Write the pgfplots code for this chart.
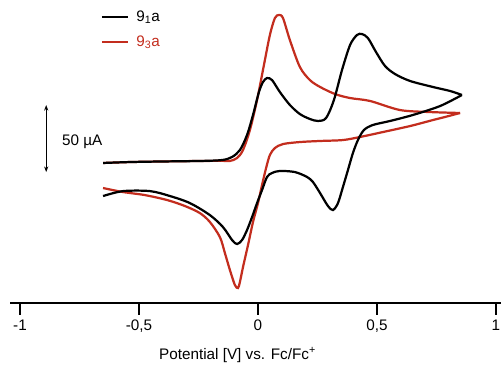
\documentclass[border=0pt]{standalone}
\usepackage{pgfplots}
\pgfplotsset{compat=1.18}
\usetikzlibrary{arrows.meta}
\usepackage{fontspec}
\setmainfont{Liberation Sans}
\definecolor{cvred}{RGB}{195,45,30}
\newcommand{\cvfont}{\fontsize{11}{13}\selectfont}
\begin{document}
\begin{tikzpicture}
\useasboundingbox (-7.56pt,-44.6pt) rectangle (353.2pt,218.2pt);
\begin{axis}[
 scale only axis, width=353pt, height=216pt,
 xmin=-1.04, xmax=1.02, ymin=-84.75, ymax=140.25,
 axis x line=bottom, axis y line=none,
 axis line style={-, line width=1.3pt},
 xtick={-1,-0.5,0,0.5,1},
 xticklabels={{-1},{-0,5},{0},{0,5},{1}},
 tick align=outside, major tick length=8.6pt,
 tick style={line width=1.3pt, black},
 tick label style={font=\cvfont},
 minor tick num=0,
 xlabel={Potential [V] vs. Fc/Fc\textsuperscript{+}},
 xlabel style={xshift=-13pt, yshift=-4pt, font=\cvfont},
 clip=false,
 legend style={at={(axis cs:-0.662,137)}, anchor=north west, draw=none, fill=none,
   inner sep=0pt, row sep=5pt, font=\cvfont, nodes={inner xsep=5pt}},
 legend image code/.code={\draw[#1] (0pt,0pt) -- (19pt,0pt);},
 legend cell align=left,
]
\addlegendimage{black, line width=1.6pt}
\addlegendentry{9\textsubscript{1}a}
\addlegendimage{cvred, line width=1.6pt}
\addlegendentry{\textcolor{cvred}{9\textsubscript{3}a}}

\addplot[cvred, line width=1.6pt, smooth, forget plot] coordinates {
(-0.651,20.3)(-0.538,21)(-0.412,21.4)(-0.244,21.8)(-0.151,21.9)(-0.118,21.8)(-0.088,24)(-0.063,30)(-0.034,45)(-0.004,67.5)(0.025,93.8)(0.050,116.3)(0.071,129)(0.088,131.3)(0.105,129)(0.134,112.5)(0.176,92.3)(0.218,82.5)(0.261,77.3)(0.324,72)(0.387,69)(0.471,66.8)(0.597,60)(0.723,58.5)(0.849,57.8)
};
\addplot[cvred, line width=1.6pt, smooth, forget plot] coordinates {
(0.849,57.8)(0.786,54.8)(0.735,52.5)(0.639,48)(0.525,43.5)(0.429,39.8)(0.357,37.5)(0.261,36.8)(0.176,36)(0.105,34.5)(0.071,31.5)(0.050,26.3)(0.034,16.5)(0.017,3.8)(0,-9.8)(-0.021,-24)(-0.042,-41.3)(-0.063,-57.8)(-0.076,-69)(-0.084,-73.5)(-0.097,-71.3)(-0.118,-60)(-0.139,-47.3)(-0.160,-35.3)(-0.202,-24)(-0.244,-17.3)(-0.307,-12)(-0.382,-7.5)(-0.475,-3.8)(-0.567,-1.5)(-0.651,1.5)
};
\addplot[black, line width=1.6pt, smooth, forget plot] coordinates {
(-0.651,20.3)(-0.538,21)(-0.412,21.4)(-0.244,21.8)(-0.151,22.5)(-0.109,24.8)(-0.076,30)(-0.046,41.3)(-0.021,56.3)(0.004,73.5)(0.021,81)(0.038,84)(0.059,82.5)(0.092,73.5)(0.134,63.8)(0.176,57)(0.218,53.3)(0.252,51.8)(0.286,54)(0.319,67.5)(0.353,90)(0.387,108.8)(0.416,116.3)(0.437,117)(0.462,114)(0.496,103.5)(0.534,93)(0.576,87)(0.639,81.8)(0.735,77.3)(0.807,74.3)(0.857,71.3)
};
\addplot[black, line width=1.6pt, smooth, forget plot] coordinates {
(0.857,71.3)(0.765,63)(0.651,56.3)(0.555,51.8)(0.483,48.8)(0.445,45)(0.420,37.5)(0.399,27.8)(0.378,15)(0.357,2.3)(0.336,-9.8)(0.315,-15)(0.294,-12)(0.261,-2.3)(0.231,6)(0.206,9.8)(0.155,13.5)(0.092,14.3)(0.059,12.8)(0.038,9.8)(0.017,0)(-0.004,-9.8)(-0.025,-20.3)(-0.046,-30)(-0.067,-37.5)(-0.088,-40.5)(-0.109,-37.5)(-0.147,-27.8)(-0.202,-18.8)(-0.286,-9.8)(-0.370,-4.5)(-0.454,-0.8)(-0.567,-0.8)(-0.651,-4.5)
};
\draw[{Stealth[length=4pt,width=3pt]}-{Stealth[length=4pt,width=3pt]}, line width=0.9pt] (axis cs:-0.89,63.75) -- (axis cs:-0.89,13.5);
\node[anchor=west, inner sep=0pt, font=\cvfont] at (axis cs:-0.824,36) {50 µA};
\end{axis}
\end{tikzpicture}
\end{document}
